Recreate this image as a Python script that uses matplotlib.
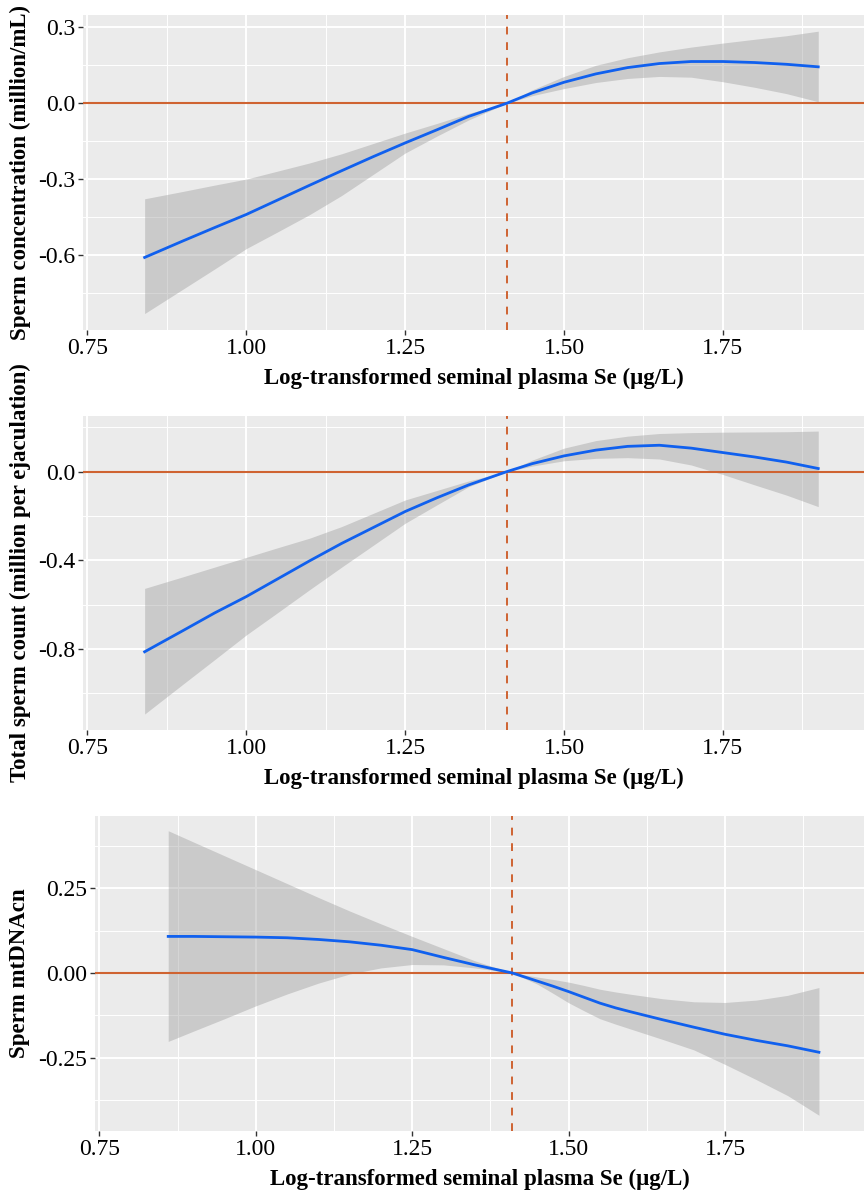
import numpy as np
import matplotlib

matplotlib.use("Agg")
import matplotlib.pyplot as plt
import matplotlib.transforms as mtransforms

plt.rcParams["font.family"] = ["Liberation Serif", "DejaVu Serif"]

# panel 1: sperm concentration
conc_x = [0.84, 0.90, 0.95, 1.00, 1.05, 1.10, 1.15, 1.20, 1.25, 1.30, 1.35,
          1.41, 1.45, 1.50, 1.55, 1.60, 1.65, 1.70, 1.75, 1.80, 1.85, 1.90]
conc_fit = [-0.610, -0.545, -0.492, -0.440, -0.382, -0.324, -0.267, -0.211, -0.157, -0.105, -0.052,
            0.000, 0.041, 0.083, 0.116, 0.141, 0.157, 0.165, 0.165, 0.161, 0.154, 0.144]
conc_hi = [-0.378, -0.349, -0.324, -0.300, -0.268, -0.236, -0.200, -0.159, -0.118, -0.080, -0.040,
           0.000, 0.053, 0.106, 0.150, 0.180, 0.203, 0.222, 0.238, 0.253, 0.267, 0.285]
conc_lo = [-0.832, -0.736, -0.656, -0.575, -0.508, -0.440, -0.365, -0.281, -0.197, -0.130, -0.066,
           0.000, 0.030, 0.058, 0.082, 0.098, 0.106, 0.103, 0.085, 0.063, 0.038, 0.006]

# panel 2: total sperm count
count_x = [0.84, 0.90, 0.95, 1.00, 1.05, 1.10, 1.15, 1.20, 1.25, 1.30, 1.35,
           1.41, 1.45, 1.50, 1.55, 1.60, 1.65, 1.70, 1.75, 1.80, 1.85, 1.90]
count_fit = [-0.813, -0.718, -0.638, -0.564, -0.483, -0.402, -0.324, -0.252, -0.180, -0.118, -0.060,
             0.000, 0.036, 0.071, 0.097, 0.114, 0.119, 0.106, 0.086, 0.066, 0.043, 0.014]
count_hi = [-0.527, -0.475, -0.431, -0.387, -0.343, -0.300, -0.248, -0.188, -0.128, -0.085, -0.042,
            0.000, 0.052, 0.106, 0.140, 0.160, 0.172, 0.176, 0.178, 0.179, 0.180, 0.183]
count_lo = [-1.094, -0.960, -0.849, -0.737, -0.635, -0.532, -0.431, -0.332, -0.233, -0.150, -0.068,
            0.000, 0.025, 0.049, 0.060, 0.063, 0.057, 0.030, -0.013, -0.060, -0.106, -0.158]

# panel 3: sperm mtDNAcn
mt_x = [0.86, 0.90, 0.95, 1.00, 1.05, 1.10, 1.15, 1.20, 1.25, 1.30, 1.35,
        1.41, 1.45, 1.475, 1.50, 1.525, 1.55, 1.575, 1.60, 1.65, 1.70, 1.75, 1.80, 1.85, 1.90]
mt_fit = [0.108, 0.108, 0.107, 0.106, 0.104, 0.099, 0.092, 0.082, 0.069, 0.046, 0.024,
          0.000, -0.024, -0.039, -0.055, -0.072, -0.089, -0.103, -0.115, -0.138, -0.160, -0.181,
          -0.199, -0.215, -0.234]
mt_hi = [0.420, 0.387, 0.346, 0.305, 0.264, 0.223, 0.183, 0.145, 0.108, 0.072, 0.036,
         0.000, -0.012, -0.019, -0.027, -0.037, -0.048, -0.056, -0.063, -0.076, -0.085, -0.087,
         -0.080, -0.066, -0.043]
mt_lo = [-0.202, -0.172, -0.135, -0.097, -0.062, -0.030, -0.003, 0.015, 0.025, 0.024, 0.015,
         0.000, -0.033, -0.060, -0.088, -0.112, -0.135, -0.151, -0.166, -0.196, -0.227, -0.270,
         -0.315, -0.362, -0.420]

ref_x = 1.41
x_ticks = [0.75, 1.00, 1.25, 1.50, 1.75]
x_ticklabels = ["0.75", "1.00", "1.25", "1.50", "1.75"]
x_minor = [0.875, 1.125, 1.375, 1.625, 1.875]

conc_yticks = [-0.6, -0.3, 0.0, 0.3]
conc_yticklabels = ["-0.6", "-0.3", "0.0", "0.3"]
conc_yminor = [-0.75, -0.45, -0.15, 0.15]

count_yticks = [-0.8, -0.4, 0.0]
count_yticklabels = ["-0.8", "-0.4", "0.0"]
count_yminor = [-1.0, -0.6, -0.2, 0.2]

mt_yticks = [-0.25, 0.0, 0.25]
mt_yticklabels = ["-0.25", "0.00", "0.25"]
mt_yminor = [-0.375, -0.125, 0.125, 0.375]

x_label = "Log-transformed seminal plasma Se (μg/L)"

BG = "#EBEBEB"
BLUE = "#1060EE"
ORANGE = "#CF6331"

W, H = 864, 1193


def draw_panel(fig, rect_px, x, fit, lo, hi, ylim, yticks, yticklabels, yminor, ylabel):
    left, top, right, bottom = rect_px
    ax = fig.add_axes([left / W, 1 - bottom / H, (right - left) / W, (bottom - top) / H])
    ax.set_facecolor(BG)
    for s in ax.spines.values():
        s.set_visible(False)

    ax.set_xlim(0.743, 1.972)
    ax.set_ylim(*ylim)
    ax.set_xticks(x_ticks)
    ax.set_xticklabels(x_ticklabels)
    ax.set_xticks(x_minor, minor=True)
    ax.set_yticks(yticks)
    ax.set_yticklabels(yticklabels)
    ax.set_yticks(yminor, minor=True)

    ax.grid(which="major", color="white", linewidth=1.4)
    ax.grid(which="minor", color="white", linewidth=0.7)
    ax.set_axisbelow(True)
    ax.tick_params(which="major", length=3.5, width=1.0, color="#333333",
                   labelsize=17, labelcolor="black", pad=2)
    ax.tick_params(which="minor", length=0)

    ax.fill_between(x, lo, hi, color="#999999", alpha=0.4, linewidth=0, zorder=2)
    ax.axhline(0.0, color=ORANGE, linewidth=1.5, zorder=3)
    ax.axvline(ref_x, color=ORANGE, linewidth=1.4, linestyle=(0, (4, 4)), zorder=3)
    ax.plot(x, fit, color=BLUE, linewidth=2.0, zorder=4, solid_joinstyle="round")

    ax.set_xlabel(x_label, fontsize=16.5, fontweight="bold", va="center")
    ax.xaxis.set_label_coords(0.5, -48 / (bottom - top))
    ax.set_ylabel(ylabel, fontsize=16.5, fontweight="bold", va="center")
    trans = mtransforms.blended_transform_factory(fig.transFigure, ax.transAxes)
    ax.yaxis.set_label_coords(20 / W, 0.5, transform=trans)
    return ax


fig = plt.figure(figsize=(W / 100, H / 100), dpi=100)

draw_panel(fig, (83, 15, 864, 330), conc_x, conc_fit, conc_lo, conc_hi,
           (-0.897, 0.349), conc_yticks, conc_yticklabels, conc_yminor,
           "Sperm concentration (million/mL)")
draw_panel(fig, (83, 416, 864, 730), count_x, count_fit, count_lo, count_hi,
           (-1.166, 0.251), count_yticks, count_yticklabels, count_yminor,
           "Total sperm count (million per ejaculation)")
draw_panel(fig, (95, 816, 864, 1131), mt_x, mt_fit, mt_lo, mt_hi,
           (-0.4665, 0.4635), mt_yticks, mt_yticklabels, mt_yminor,
           "Sperm mtDNAcn")

fig.savefig("out.png", dpi=100, facecolor="white")
